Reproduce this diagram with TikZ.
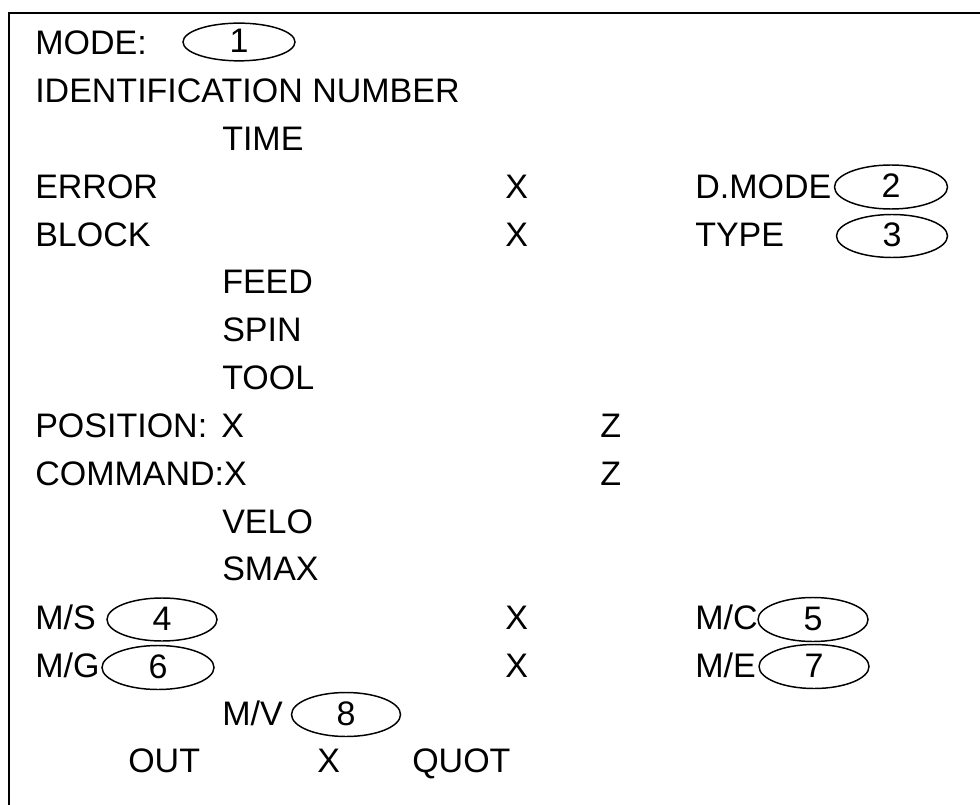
\documentclass[tikz,border=0pt]{standalone}
\usepackage{fontspec}
\setmainfont{Liberation Sans}
\usepackage{tikz}
\usetikzlibrary{shapes.geometric}

\tikzset{
  lbl/.style={anchor=base west,inner sep=0pt,font=\fontsize{25.5}{30}\selectfont},
  oval/.style={draw,ellipse,inner sep=0pt,line width=1.1pt,
    minimum width=82.5pt,minimum height=33pt,text height=18pt,text depth=2pt,
    font=\fontsize{25.5}{30}\selectfont},
}

\begin{document}
\begin{tikzpicture}[x=0.75pt,y=-0.75pt]
\useasboundingbox (0,0) rectangle (980,805);
\draw[line width=1.5pt] (9,825) -- (9,13) -- (1000,13);

\draw (35,55) node[lbl](mode) {MODE:} ;
\draw (35,102.8) node[lbl](ident) {IDENTIFICATION NUMBER} ;
\draw (222,150.6) node[lbl](time) {TIME} ;

\draw (35,198.4) node[lbl](error) {ERROR} ;
\draw (505,198.4) node[lbl](errx) {X} ;
\draw (695,198.4) node[lbl](dmode) {D.MODE} ;

\draw (35,246.2) node[lbl](block) {BLOCK} ;
\draw (505,246.2) node[lbl](blockx) {X} ;
\draw (695,246.2) node[lbl](type) {TYPE} ;

\draw (222,294) node[lbl](feed) {FEED} ;
\draw (222,341.8) node[lbl](spin) {SPIN} ;
\draw (222,389.6) node[lbl](tool) {TOOL} ;

\draw (35,437.4) node[lbl](pos) {POSITION:} ;
\draw (221,437.4) node[lbl](posx) {X} ;
\draw (600,437.4) node[lbl](posz) {Z} ;

\draw (35,485.2) node[lbl](cmd) {COMMAND:X} ;
\draw (600,485.2) node[lbl](cmdz) {Z} ;

\draw (222,533) node[lbl](velo) {VELO} ;
\draw (222,580.8) node[lbl](smax) {SMAX} ;

\draw (35,629.5) node[lbl](ms) {M/S} ;
\draw (505,629.5) node[lbl](msx) {X} ;
\draw (695,629.5) node[lbl](mc) {M/C} ;

\draw (35,677) node[lbl](mg) {M/G} ;
\draw (505,677) node[lbl](mgx) {X} ;
\draw (695,677) node[lbl](me) {M/E} ;

\draw (222,725) node[lbl](mv) {M/V} ;

\draw (128,772.5) node[lbl](out) {OUT} ;
\draw (317,772.5) node[lbl](outx) {X} ;
\draw (412,772.5) node[lbl](quot) {QUOT} ;

% numbered ovals
\draw (239,42) node[oval,minimum height=26.25pt,minimum width=84pt](o1) {1} ;
\draw (891,187) node[oval,minimum width=84.75pt](o2) {2} ;
\draw (892,236) node[oval,minimum width=83.25pt,minimum height=32.25pt](o3) {3} ;
\draw (162,619.5) node[oval,minimum height=32.25pt](o4) {4} ;
\draw (813,619.5) node[oval](o5) {5} ;
\draw (158,667.5) node[oval,minimum width=84pt](o6) {6} ;
\draw (814,666.5) node[oval](o7) {7} ;
\draw (346,714.5) node[oval,minimum width=81.75pt](o8) {8} ;
\end{tikzpicture}
\end{document}
